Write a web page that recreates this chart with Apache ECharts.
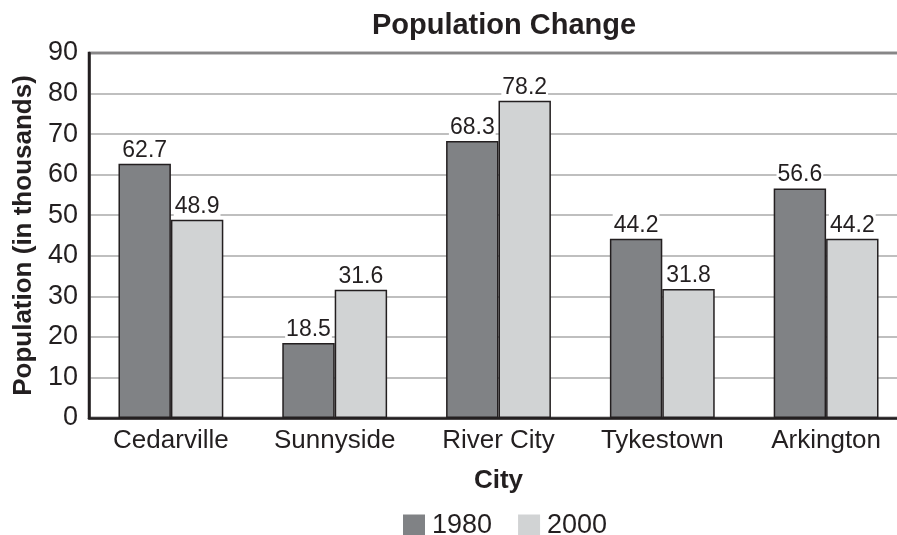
<!DOCTYPE html>
<html>
<head>
<meta charset="utf-8">
<script src="https://cdn.jsdelivr.net/npm/echarts@6/dist/echarts.min.js"></script>
<style>
  html, body { margin: 0; padding: 0; background: #fff; }
  #chart { width: 897px; height: 535px; }
</style>
</head>
<body>
<div id="chart"></div>
<script>
// Population by city, in thousands
const cities = ['Cedarville', 'Sunnyside', 'River City', 'Tykestown', 'Arkington'];
const pop1980 = [62.7, 18.5, 68.3, 44.2, 56.6];
const pop2000 = [48.9, 31.6, 78.2, 31.8, 44.2];
const yTicks = { min: 0, max: 90, step: 10 };

const INK = '#231f20';
const SANS = "'Liberation Sans', Arial, Helvetica, sans-serif";

const valueLabel = {
  show: true,
  position: 'top',
  distance: 2,
  fontFamily: SANS,
  fontSize: 23,
  color: INK,
  backgroundColor: '#fff',
  padding: [0, 1, 0, 1],
  formatter: p => p.value.toFixed(1)
};

function barSeries(name, data, color) {
  return {
    name: name,
    type: 'bar',
    data: data,
    barGap: '0%',
    barCategoryGap: '36%',
    itemStyle: { color: color, borderColor: INK, borderWidth: 1.5 },
    label: valueLabel
  };
}

const chart = echarts.init(document.getElementById('chart'), null, { renderer: 'canvas' });
chart.setOption({
  animation: false,
  backgroundColor: '#fff',
  title: {
    text: 'Population Change',
    left: 499,
    top: 6,
    textAlign: 'center',
    textStyle: { fontFamily: SANS, fontSize: 29, fontWeight: 'bold', color: INK }
  },
  legend: {
    data: ['1980', '2000'],
    left: 398,
    top: 507,
    itemWidth: 22,
    itemHeight: 22,
    itemGap: 26,
    icon: 'rect',
    itemStyle: { borderWidth: 0 },
    textStyle: { fontFamily: SANS, fontSize: 27, color: INK, padding: [0, 0, 0, 2] }
  },
  grid: {
    left: 89,
    top: 53,
    width: 819,
    height: 365,
    show: true,
    borderColor: INK,
    borderWidth: 2.5,
    containLabel: false,
    outerBoundsMode: 'none'
  },
  xAxis: {
    type: 'category',
    data: cities,
    name: 'City',
    nameLocation: 'middle',
    nameGap: 50,
    nameTextStyle: { fontFamily: SANS, fontSize: 26, fontWeight: 'bold', color: INK },
    axisLine: { lineStyle: { color: INK, width: 2.5 } },
    axisTick: { show: false },
    axisLabel: { fontFamily: SANS, fontSize: 26, color: INK, margin: 10, interval: 0, hideOverlap: false }
  },
  yAxis: {
    type: 'value',
    min: yTicks.min,
    max: yTicks.max,
    interval: yTicks.step,
    name: 'Population (in thousands)',
    nameLocation: 'middle',
    nameGap: 52,
    nameTextStyle: { fontFamily: SANS, fontSize: 26, fontWeight: 'bold', color: INK },
    axisLine: { show: true, lineStyle: { color: INK, width: 2.5 } },
    axisTick: { show: false },
    axisLabel: { fontFamily: SANS, fontSize: 27, color: INK, margin: 11 },
    splitLine: { lineStyle: { color: '#aaaaaa', width: 1.5 } }
  },
  series: [
    barSeries('1980', pop1980, '#808285'),
    barSeries('2000', pop2000, '#d1d3d4')
  ]
});
</script>
</body>
</html>
